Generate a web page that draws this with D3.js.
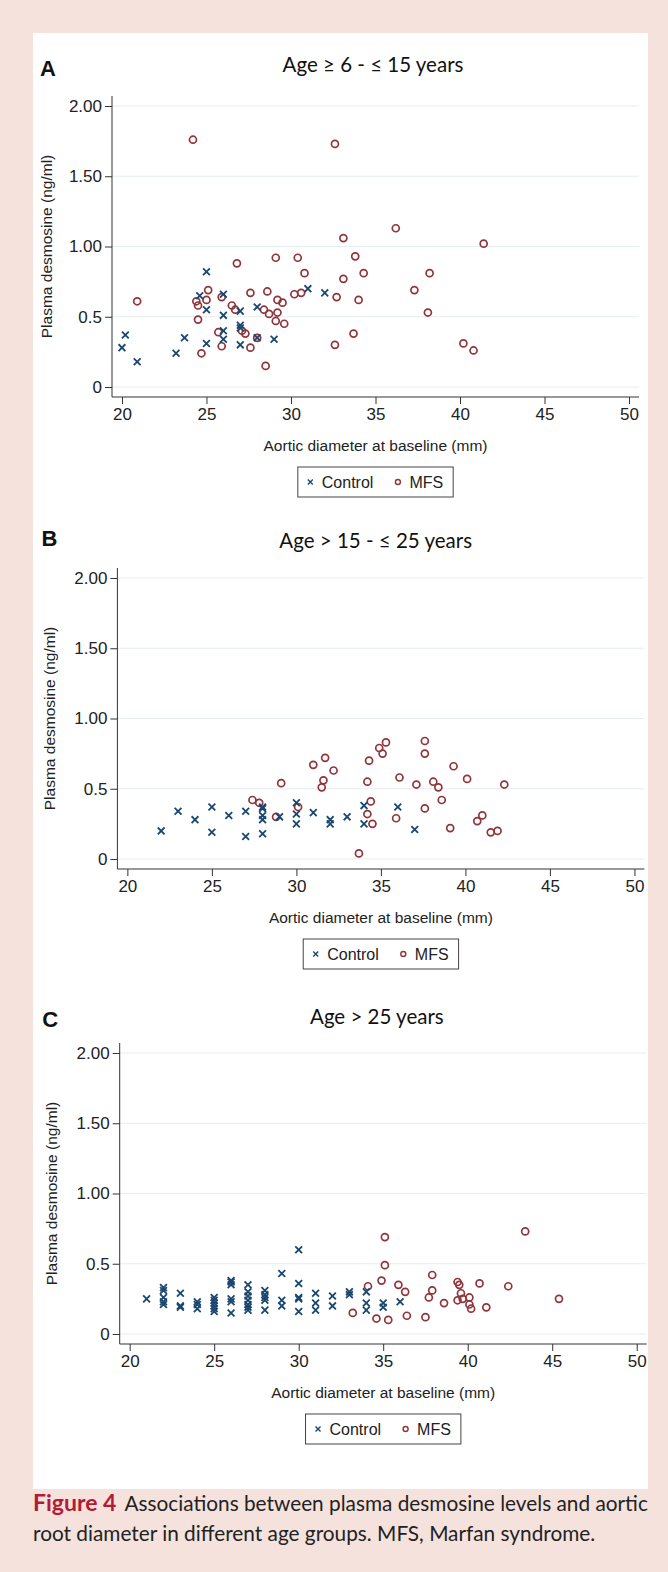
<!DOCTYPE html>
<html lang="en">
<head>
<meta charset="UTF-8">
<title>Figure 4</title>
<script src="https://d3js.org/d3.v7.min.js"></script>
<style>
  body { margin: 0; background: #f5e2dd; }
  svg { display: block; }
  .tick-label { font: 17px "Liberation Sans", Arial, sans-serif; fill: #222; }
  .legend-label { font: 16px "Liberation Sans", Arial, sans-serif; fill: #222; }
  .axis-title { font: 15.5px "Liberation Sans", Arial, sans-serif; fill: #222; }
  .panel-title { font: 20.5px Lato, "Open Sans", sans-serif; fill: #111; }
  .panel-letter { font: bold 22px "Liberation Sans", Arial, sans-serif; fill: #111; }
  .caption { font: 20.8px Lato, "Open Sans", sans-serif; fill: #222; }
</style>
</head>
<body>
<svg width="668" height="1572"></svg>
<script>
// panel titles
const panelLetters = ["A", "B", "C"];
const panelTitles = ["Age \u2265 6 - \u2264 15 years", "Age > 15 - \u2264 25 years", "Age > 25 years"];

// axis ticks
const xTicks = [20, 25, 30, 35, 40, 45, 50];
const yTicks = [0, 0.5, 1, 1.5, 2];
const yTickLabels = ["0", "0.5", "1.00", "1.50", "2.00"];

const seriesNames = ["Control", "MFS"];

// [aortic diameter (mm), plasma desmosine (ng/ml)]
const controlA = [
  [20.0,0.28],[20.2,0.37],[20.9,0.18],[23.2,0.24],[23.7,0.35],[24.6,0.65],[25.0,0.82],
  [25.0,0.55],[25.0,0.31],[26.0,0.66],[26.0,0.51],[26.0,0.40],[26.0,0.34],[27.0,0.54],
  [27.0,0.44],[27.0,0.42],[27.0,0.30],[28.0,0.57],[28.0,0.35],[29.0,0.34],[31.0,0.70],[32.0,0.67]
];
const mfsA = [
  [24.2,1.76],[32.6,1.73],[20.9,0.61],[33.1,1.06],[26.8,0.88],[29.1,0.92],[30.4,0.92],
  [33.8,0.93],[30.8,0.81],[34.3,0.81],[33.1,0.77],[25.1,0.69],[27.6,0.67],[28.6,0.68],
  [30.2,0.66],[30.6,0.67],[32.7,0.64],[34.0,0.62],[24.4,0.61],[25.0,0.62],[25.9,0.64],
  [24.5,0.58],[26.5,0.58],[26.7,0.55],[29.2,0.62],[29.5,0.60],[28.4,0.55],[28.7,0.52],
  [29.2,0.53],[24.5,0.48],[29.1,0.47],[29.6,0.45],[25.7,0.39],[27.1,0.40],[27.3,0.38],
  [28.0,0.35],[25.9,0.29],[27.6,0.28],[24.7,0.24],[28.5,0.15],[32.6,0.30],[33.7,0.38],
  [36.2,1.13],[41.4,1.02],[38.2,0.81],[37.3,0.69],[38.1,0.53],[40.2,0.31],[40.8,0.26]
];
const controlB = [
  [22.0,0.20],[23.0,0.34],[24.0,0.28],[25.0,0.37],[25.0,0.19],[26.0,0.31],[27.0,0.34],
  [27.0,0.16],[28.0,0.37],[28.0,0.36],[28.0,0.31],[28.0,0.28],[28.0,0.18],[29.0,0.30],
  [30.0,0.40],[30.0,0.32],[30.0,0.25],[31.0,0.33],[32.0,0.28],[32.0,0.25],[33.0,0.30],
  [34.0,0.38],[34.0,0.25],[36.0,0.37],[37.0,0.21]
];
const mfsB = [
  [27.4,0.42],[27.8,0.40],[28.8,0.30],[29.1,0.54],[30.1,0.37],[31.0,0.67],[31.7,0.72],
  [31.6,0.56],[31.5,0.51],[32.2,0.63],[33.7,0.04],[34.3,0.70],[34.2,0.55],[34.4,0.41],
  [34.2,0.32],[34.5,0.25],[34.9,0.79],[35.1,0.75],[35.3,0.83],[37.6,0.84],[37.6,0.75],
  [36.1,0.58],[35.9,0.29],[37.1,0.53],[37.6,0.36],[38.1,0.55],[38.4,0.51],[38.6,0.42],
  [39.3,0.66],[39.1,0.22],[40.1,0.57],[40.7,0.27],[41.0,0.31],[41.5,0.19],[41.9,0.20],[42.3,0.53]
];
const controlC = [
  [21,0.25],[22,0.33],[22,0.31],[22,0.26],[22,0.23],[22,0.21],[23,0.29],[23,0.20],[23,0.19],
  [24,0.23],[24,0.21],[24,0.18],[25,0.26],[25,0.24],[25,0.22],[25,0.20],[25,0.18],[25,0.16],
  [26,0.38],[26,0.37],[26,0.35],[26,0.25],[26,0.23],[26,0.15],[27,0.35],[27,0.30],[27,0.27],
  [27,0.24],[27,0.21],[27,0.19],[27,0.17],[28,0.31],[28,0.28],[28,0.26],[28,0.24],[28,0.17],
  [29,0.43],[29,0.24],[29,0.20],[30,0.60],[30,0.36],[30,0.26],[30,0.25],[30,0.16],[31,0.29],
  [31,0.22],[31,0.17],[32,0.27],[32,0.20],[33,0.30],[33,0.28],[34,0.30],[34,0.22],[34,0.17],
  [35,0.22],[35,0.19],[36,0.23]
];
const mfsC = [
  [33.2,0.15],[34.1,0.34],[34.6,0.11],[34.9,0.38],[35.1,0.69],[35.1,0.49],[35.3,0.10],
  [35.9,0.35],[36.3,0.30],[36.4,0.13],[37.5,0.12],[37.7,0.26],[37.9,0.42],[37.9,0.31],
  [38.6,0.22],[39.4,0.37],[39.5,0.35],[39.6,0.29],[39.4,0.24],[39.7,0.25],[40.1,0.26],
  [40.1,0.21],[40.2,0.18],[40.7,0.36],[41.1,0.19],[42.4,0.34],[43.4,0.73],[45.4,0.25]
];

const controlSets = [controlA, controlB, controlC];
const mfsSets = [mfsA, mfsB, mfsC];

const navy = "#1a476f";
const maroon = "#90353b";
const gridColor = "#e6eef0";

const svg = d3.select("svg");

svg.append("rect").attr("width", 668).attr("height", 1572).attr("fill", "#f5e2dd");
svg.append("rect").attr("x", 33).attr("y", 33).attr("width", 615).attr("height", 1456).attr("fill", "#fff");

// each panel sits a bit lower and slightly to the right of the previous one
const panelOffsets = [[0, 0], [5.4, 472], [7.7, 947]];
const titleBaselines = [72, 548, 1024];
const letterBaselines = [76, 546, 1027];

function drawCross(g, cx, cy, s, w) {
  g.append("path")
    .attr("d", `M${cx - s},${cy - s}L${cx + s},${cy + s}M${cx - s},${cy + s}L${cx + s},${cy - s}`)
    .attr("stroke", navy).attr("stroke-width", w || 1.8).attr("fill", "none");
}

panelLetters.forEach((letter, i) => {
  const [dx, dy] = panelOffsets[i];
  const left = 112 + dx, right = 639 + dx;
  const top = 96 + dy, bottom = 397 + dy;

  const x = d3.scaleLinear().domain([19.41, 50.59]).range([left, right]);
  const y = d3.scaleLinear().domain([-0.0712, 2.0712]).range([bottom, top]);

  const g = svg.append("g");

  g.append("text").attr("class", "panel-letter")
    .attr("x", 40 + dx * 0.3).attr("y", letterBaselines[i]).text(letter);
  g.append("text").attr("class", "panel-title")
    .attr("x", 373 + dx * 0.5).attr("y", titleBaselines[i])
    .attr("text-anchor", "middle").text(panelTitles[i]);

  // gridlines
  g.append("g").selectAll("line").data(yTicks).join("line")
    .attr("x1", left).attr("x2", right)
    .attr("y1", d => y(d)).attr("y2", d => y(d))
    .attr("stroke", gridColor).attr("stroke-width", 1.2);

  // y axis
  const yAxis = d3.axisLeft(y).tickValues(yTicks)
    .tickFormat((d, k) => yTickLabels[k]).tickSize(7).tickPadding(3);
  const ya = g.append("g").attr("transform", `translate(${left},0)`).call(yAxis);
  ya.select(".domain").attr("d", `M0,${top}V${bottom}`).attr("stroke", "#333");
  ya.selectAll(".tick line").attr("stroke", "#333");
  ya.selectAll(".tick text").attr("class", "tick-label").attr("fill", "#222");

  // x axis
  const xAxis = d3.axisBottom(x).tickValues(xTicks).tickSize(7).tickPadding(4);
  const xa = g.append("g").attr("transform", `translate(0,${bottom})`).call(xAxis);
  xa.select(".domain").attr("d", `M${left},0H${right}`).attr("stroke", "#333");
  xa.selectAll(".tick line").attr("stroke", "#333");
  xa.selectAll(".tick text").attr("class", "tick-label").attr("fill", "#222");

  g.append("text").attr("class", "axis-title")
    .attr("transform", `translate(${52 + dx * 0.6},${(top + bottom) / 2}) rotate(-90)`)
    .attr("text-anchor", "middle").text("Plasma desmosine (ng/ml)");
  g.append("text").attr("class", "axis-title")
    .attr("x", (left + right) / 2).attr("y", bottom + 54)
    .attr("text-anchor", "middle").text("Aortic diameter at baseline (mm)");

  // points
  const pts = g.append("g");
  mfsSets[i].forEach(d => {
    pts.append("circle").attr("cx", x(d[0])).attr("cy", y(d[1])).attr("r", 3.5)
      .attr("fill", "none").attr("stroke", maroon).attr("stroke-width", 1.7);
  });
  controlSets[i].forEach(d => drawCross(pts, x(d[0]), y(d[1]), 3.4));

  // legend
  const ly = bottom + 70;
  const lg = g.append("g");
  const box = lg.append("rect").attr("y", ly).attr("height", 30)
    .attr("fill", "#fff").attr("stroke", "#444").attr("stroke-width", 1);
  const t1 = lg.append("text").attr("class", "legend-label").attr("y", ly + 21).text(seriesNames[0]);
  const t2 = lg.append("text").attr("class", "legend-label").attr("y", ly + 21).text(seriesNames[1]);
  const w1 = t1.node().getComputedTextLength(), w2 = t2.node().getComputedTextLength();
  const bw = 10 + 5 + 9 + w1 + 22 + 5 + 9 + w2 + 10;
  const lx = (left + right) / 2 - bw / 2;
  box.attr("x", lx).attr("width", bw);
  drawCross(lg, lx + 12.5, ly + 15, 2.5, 1.4);
  t1.attr("x", lx + 24);
  const cx2 = lx + 24 + w1 + 24.5;
  lg.append("circle").attr("cx", cx2).attr("cy", ly + 15).attr("r", 2.5)
    .attr("fill", "none").attr("stroke", maroon).attr("stroke-width", 1.4);
  t2.attr("x", cx2 + 11.5);
});

// caption
const cap1 = svg.append("text").attr("class", "caption").attr("x", 33).attr("y", 1511);
cap1.append("tspan").attr("font-weight", "bold").attr("fill", "#b31b34").attr("font-size", "23px").text("Figure 4");
cap1.append("tspan").attr("dx", 8).text("Associations between plasma desmosine levels and aortic");
svg.append("text").attr("class", "caption").attr("x", 33).attr("y", 1541)
  .text("root diameter in different age groups. MFS, Marfan syndrome.");
</script>
</body>
</html>
